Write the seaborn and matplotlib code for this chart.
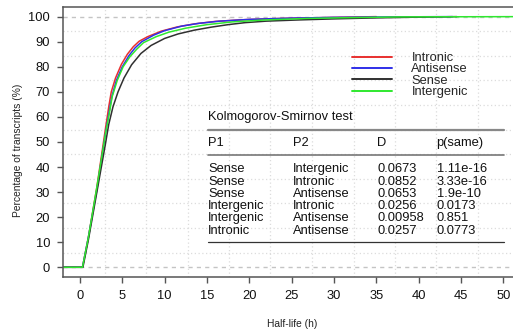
import matplotlib
matplotlib.use("Agg")
import matplotlib.pyplot as plt
from matplotlib.lines import Line2D
import seaborn as sns
import pandas as pd
import numpy as np

# ---------------- data ----------------
series_names = ["Intronic", "Antisense", "Sense", "Intergenic"]
series_colors = ["#e8302f", "#2f2fe8", "#303030", "#2fe82f"]

intronic_x = [-2.5, 0.3, 1, 2, 3, 3.4, 3.7, 4.2, 4.9, 5.6, 6.3, 7.0, 8.0, 9.6, 11.5, 13.5, 16, 19.5, 24, 30, 35]
intronic_y = [0, 0, 12, 32, 55, 64, 70, 75.5, 81, 85, 88, 90.2, 92, 94.2, 95.9, 97.1, 98.1, 98.8, 99.3, 99.7, 100]

antisense_x = [-2.5, 0.3, 1, 2, 3, 3.5, 3.8, 4.3, 5.0, 5.8, 6.5, 7.3, 8.7, 10, 12, 14, 16.5, 20, 25, 30, 37, 44]
antisense_y = [0, 0, 12, 31, 53, 63, 68.5, 74.5, 80, 84.5, 87.5, 90, 92.6, 94.4, 96.2, 97.3, 98.2, 98.9, 99.4, 99.7, 99.9, 100]

sense_x = [-2.5, 0.35, 1, 2, 3, 3.4, 3.9, 4.5, 5.2, 6.1, 7.2, 8.4, 10, 11.6, 13.5, 15.5, 17.5, 19.5, 22, 26, 30, 35, 40, 44.5]
sense_y = [0, 0, 11, 30, 49, 57, 64, 70, 75.5, 80.8, 85.3, 88.5, 91.3, 93.1, 94.6, 95.8, 96.8, 97.6, 98.2, 98.7, 99.1, 99.5, 99.8, 100]

intergenic_x = [-2.5, 0.3, 1, 2, 3, 3.5, 3.8, 4.4, 5.1, 5.9, 6.7, 7.5, 9, 10.5, 12.5, 15, 18, 22, 27, 32, 38, 53]
intergenic_y = [0, 0, 12, 32, 53, 62, 68, 74.5, 80, 84, 87, 89.6, 92, 93.8, 95.4, 96.8, 97.9, 98.7, 99.3, 99.6, 99.9, 100]

x_ticks = list(range(0, 51, 5))
y_ticks = list(range(0, 101, 10))

ks_title = "Kolmogorov-Smirnov test"
ks_header = ["P1", "P2", "D", "p(same)"]
ks_p1 = ["Sense", "Sense", "Sense", "Intergenic", "Intergenic", "Intronic"]
ks_p2 = ["Intergenic", "Intronic", "Antisense", "Intronic", "Antisense", "Antisense"]
ks_d = ["0.0673", "0.0852", "0.0653", "0.0256", "0.00958", "0.0257"]
ks_p = ["1.11e-16", "3.33e-16", "1.9e-10", "0.0173", "0.851", "0.0773"]

# ---------------- build frame ----------------
frames = []
for name, xs, ys in [("Intronic", intronic_x, intronic_y),
                     ("Antisense", antisense_x, antisense_y),
                     ("Sense", sense_x, sense_y),
                     ("Intergenic", intergenic_x, intergenic_y)]:
    frames.append(pd.DataFrame({"half_life": xs, "pct": ys, "type": name}))
df = pd.concat(frames, ignore_index=True)

sns.set_style("white")
plt.rcParams["font.family"] = ["Liberation Sans", "DejaVu Sans"]

W, H = 513, 335
fig = plt.figure(figsize=(W / 100, H / 100), dpi=100)

def fx(px):
    return px / W

def fy(py):
    return 1 - py / H

ax_left, ax_right, ax_top, ax_bottom = 63, 519.5, 6.6, 277.3
ax = fig.add_axes([fx(ax_left), fy(ax_bottom), (ax_right - ax_left) / W, (ax_bottom - ax_top) / H])
ax.set_xlim(-2.0, 51.9)
ax.set_ylim(-4, 104)

# grid (R grid(): evenly divides the plot region)
for gx in np.linspace(-2.0, 51.9, 12)[1:-1]:
    ax.axvline(gx, color="#dcdcdc", lw=0.9, ls=(0, (1, 2)), zorder=0)
for gy in np.linspace(-4, 104, 12)[1:-1]:
    ax.axhline(gy, color="#dcdcdc", lw=0.9, ls=(0, (1, 2)), zorder=0)
for ref in (0, 100):
    ax.axhline(ref, color="#c4c4c4", lw=1.0, ls=(0, (3, 3)), zorder=0.5)

sns.lineplot(data=df, x="half_life", y="pct", hue="type", hue_order=series_names,
             palette=series_colors, estimator=None, sort=False,
             lw=1.1, legend=False, ax=ax)

ax.set_xticks(x_ticks)
ax.set_yticks(y_ticks)
ax.tick_params(axis="both", length=4.3, width=1.0, color="#555555", labelsize=9.3,
               labelcolor="#111111", direction="out", pad=5)
ax.tick_params(axis="x", bottom=True)
ax.tick_params(axis="y", left=True)
for s in ["left", "top", "bottom", "right"]:
    ax.spines[s].set_color("#555555")
    ax.spines[s].set_linewidth(1.1)
ax.set_xlabel("")
ax.set_ylabel("")

fig.text(fx(292), fy(324), "Half-life (h)", ha="center", va="center", fontsize=7.4, color="#222222")
fig.text(fx(18), fy(150), "Percentage of transcripts (%)", ha="center", va="center",
         rotation=90, fontsize=7.4, color="#222222")

# legend
handles = [Line2D([], [], color=c, lw=1.4) for c in series_colors]
leg = ax.legend(handles, series_names, frameon=False, fontsize=9.3, handlelength=3.1,
                handletextpad=1.5, labelspacing=-0.05, loc="upper left",
                bbox_to_anchor=(fx(352), fy(52)), bbox_transform=fig.transFigure,
                borderpad=0, borderaxespad=0)

# KS table
col_x = [208, 292.7, 377, 436.5]
fs = 9.3
fig.text(fx(208), fy(117), ks_title, ha="left", va="center", fontsize=fs, color="#111111")
fig.add_artist(Line2D([fx(208), fx(504)], [fy(130), fy(130)], transform=fig.transFigure,
                      color="#888888", lw=1.6))
for cx, h in zip(col_x, ks_header):
    fig.text(fx(cx), fy(143), h, ha="left", va="center", fontsize=fs, color="#111111")
fig.add_artist(Line2D([fx(208), fx(504)], [fy(155), fy(155)], transform=fig.transFigure,
                      color="#777777", lw=1.2))
row_y0, row_dy = 169.3, 12.28
for i in range(len(ks_p1)):
    yy = row_y0 + i * row_dy
    for cx, val in zip(col_x, [ks_p1[i], ks_p2[i], ks_d[i], ks_p[i]]):
        fig.text(fx(cx), fy(yy), val, ha="left", va="center", fontsize=fs, color="#111111")
fig.add_artist(Line2D([fx(208), fx(504)], [fy(241.7), fy(241.7)], transform=fig.transFigure,
                      color="#333333", lw=0.9))

fig.savefig("out.png", dpi=100)
